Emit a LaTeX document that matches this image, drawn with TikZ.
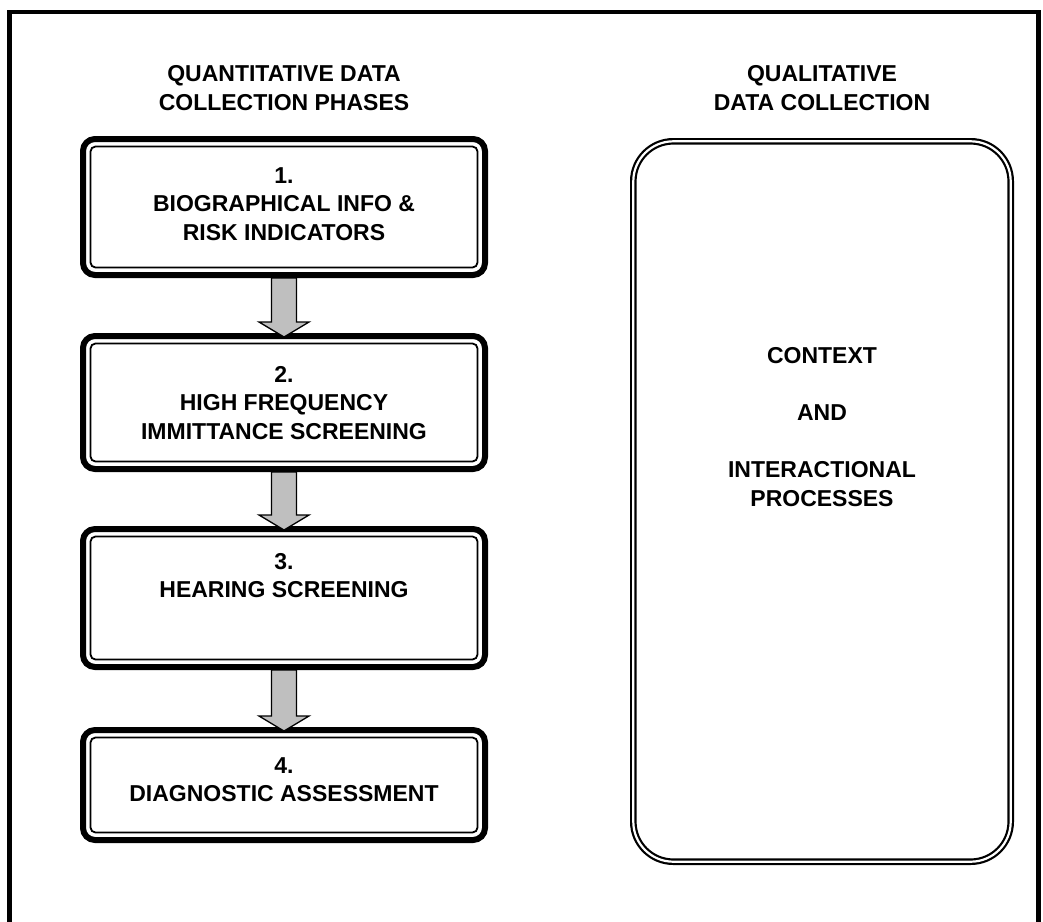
\documentclass[tikz,border=0pt]{standalone}
\usepackage{fontspec}
\setmainfont{Liberation Sans}
\usetikzlibrary{calc}
\tikzset{
  lbl/.style={font=\fontsize{23}{28.5}\selectfont\bfseries, align=center, inner sep=0pt},
  qbox/.style={draw, line width=6pt, rounded corners=12pt, minimum width=402pt, inner sep=0pt},
  innerline/.style={draw, line width=1.8pt, rounded corners=5pt},
  rbox/.style={draw, line width=2.2pt, double, double distance=2.2pt, rounded corners=40pt,
    minimum width=377.4pt, minimum height=720.4pt, inner sep=0pt},
  bigarrow/.style={draw, line width=1.3pt, fill=black!25, line join=miter},
  frame/.style={line width=4.5pt}
}
\begin{document}
\begin{tikzpicture}[x=1pt,y=1pt]
\useasboundingbox (0,0) rectangle (1043,-921);
\draw[frame] (9.5,-925) -- (9.5,-12) -- (1038.5,-12) -- (1038.5,-925);

% headers
\node[lbl] (hq) at (284,-88) {QUANTITATIVE DATA\\COLLECTION PHASES};
\node[lbl] (hl) at (822,-88) {QUALITATIVE\\DATA COLLECTION};

% left column boxes (outer edges: 136-278, 333-472, 526-670, 727-843)
\node[qbox, minimum height=136pt] (b1) at (284,-207) {};
\node[qbox, minimum height=133pt] (b2) at (284,-402.5) {};
\node[qbox, minimum height=138pt] (b3) at (284,-598) {};
\node[qbox, minimum height=110pt] (b4) at (284,-785) {};

\foreach \b in {b1,b2,b3,b4}{
  \draw[innerline] ([xshift=10.5pt,yshift=-10.5pt]\b.north west) rectangle ([xshift=-10.5pt,yshift=10.5pt]\b.south east);
}

% box texts
\node[lbl, anchor=north] (t1) at ([yshift=-31pt]b1.north) {1.\\BIOGRAPHICAL INFO \&\\RISK INDICATORS};
\node[lbl, anchor=north] (t2) at ([yshift=-33pt]b2.north) {2.\\HIGH FREQUENCY\\IMMITTANCE SCREENING};
\node[lbl, anchor=north] (t3) at ([yshift=-27pt]b3.north) {3.\\HEARING SCREENING};
\node[lbl, anchor=north] (t4) at ([yshift=-30pt]b4.north) {4.\\DIAGNOSTIC ASSESSMENT};

% arrows
\foreach \a/\c in {b1/b2,b2/b3,b3/b4}{
  \draw[bigarrow] ([xshift=-12.5pt]\a.south) -- ([xshift=-12.5pt,yshift=11pt]\c.north)
    -- ([xshift=-25pt,yshift=11pt]\c.north) -- ([yshift=-4pt]\c.north)
    -- ([xshift=25pt,yshift=11pt]\c.north) -- ([xshift=12.5pt,yshift=11pt]\c.north)
    -- ([xshift=12.5pt]\a.south) -- cycle;
}

% right box
\node[rbox] (r) at (822,-501.5) {};
\node[lbl] (rt) at (822,-427) {CONTEXT\\ \\AND\\ \\INTERACTIONAL\\PROCESSES};
\end{tikzpicture}
\end{document}
